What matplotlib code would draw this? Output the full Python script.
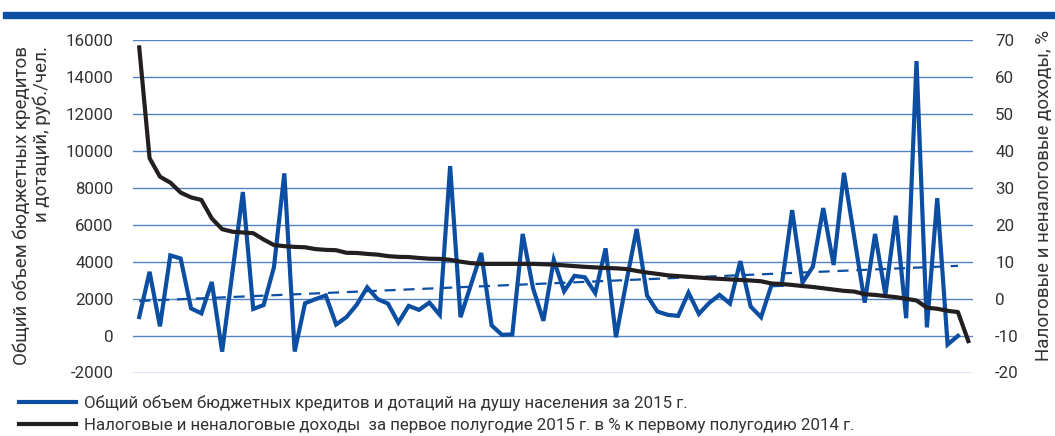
import matplotlib
matplotlib.use("Agg")
import matplotlib.pyplot as plt
import numpy as np
from matplotlib.lines import Line2D
from matplotlib.patches import Rectangle

# ---- data ----
budget_per_capita = [
    1000, 3450, 500, 4340, 4170, 1470, 1200, 2900, -870, 3450,
    7770, 1440, 1650, 3700, 8780, -865, 1750, 1970, 2170, 600,
    1000, 1680, 2610, 1970, 1730, 700, 1605, 1390, 1784, 1120,
    9170, 994, 2740, 4470, 550, 40, 60, 5500, 2560, 800,
    4090, 2400, 3230, 3155, 2300, 4720, -90, 2900, 5770, 2170,
    1300, 1120, 1065, 2324, 1173, 1770, 2200, 1730, 4030, 1570,
    994, 2720, 2740, 6790, 2870, 3730, 6900, 3820, 8810, 5300,
    1784, 5500, 2200, 6490, 940, 14860, 443, 7440, -485, -16,
]
tax_revenue_pct = [
    68.0, 38.0, 33.0, 31.4, 28.7, 27.4, 26.7, 21.7, 18.8, 18.1,
    17.9, 17.7, 16.0, 14.5, 14.2, 14.0, 13.9, 13.4, 13.2, 13.1,
    12.4, 12.35, 12.1, 11.9, 11.5, 11.3, 11.25, 11.0, 10.8, 10.75,
    10.5, 10.0, 9.6, 9.4, 9.4, 9.4, 9.4, 9.4, 9.4, 9.3,
    9.2, 9.0, 8.8, 8.6, 8.45, 8.3, 8.2, 8.0, 7.5, 7.05,
    6.7, 6.3, 6.1, 5.9, 5.7, 5.5, 5.35, 5.2, 5.05, 4.9,
    4.7, 4.1, 3.95, 3.7, 3.4, 3.15, 2.8, 2.45, 2.1, 1.9,
    1.2, 1.0, 0.7, 0.4, -0.05, -0.5, -2.45, -2.75, -3.3, -3.65,
    -11.5,
]
left_ticks = [-2000, 0, 2000, 4000, 6000, 8000, 10000, 12000, 14000, 16000]
right_ticks = [-20, -10, 0, 10, 20, 30, 40, 50, 60, 70]
label_blue = "Общий объем бюджетных кредитов и дотаций на душу населения за 2015 г."
label_black = "Налоговые и неналоговые доходы  за первое полугодие 2015 г. в % к первому полугодию 2014 г."
left_ylabel_lines = ["Общий объем бюджетных кредитов", "и дотаций, руб./чел."]
right_ylabel = "Налоговые и неналоговые доходы, %"

BLUE = "#0b4ea2"
BLACK = "#231f20"
GRID = "#5582c2"
TXT = "#333333"
FONT = ["Roboto", "DejaVu Sans"]
FS = 12.2
FS_LAB = 13.5

plt.rcParams["font.family"] = FONT

fig = plt.figure(figsize=(10.55, 4.36), dpi=100)
W, H = 1055, 436
ax = fig.add_axes([133 / W, 1 - 372.5 / H, (973 - 133) / W, (372.5 - 40) / H])
ax2 = ax.twinx()

xb = np.arange(len(budget_per_capita))
xt = np.arange(len(tax_revenue_pct))

ax.set_ylim(left_ticks[0], left_ticks[-1])
ax.set_yticks(left_ticks)
ax.set_yticklabels([str(t) for t in left_ticks])
ax2.set_ylim(right_ticks[0], right_ticks[-1])
ax2.set_yticks(right_ticks)
ax2.set_yticklabels([str(t) for t in right_ticks])
ax.set_xlim(-0.6, 80.45)
ax.set_xticks([])

ax.grid(axis="y", color=GRID, linewidth=1.0)
ax.set_axisbelow(True)
for a in (ax, ax2):
    for s in a.spines.values():
        s.set_visible(False)
    a.tick_params(axis="both", length=0, labelsize=FS, labelcolor=TXT)
ax.tick_params(axis="y", pad=14)
ax2.tick_params(axis="y", pad=16)

# blue series and linear trend
ax.plot(xb, budget_per_capita, color=BLUE, linewidth=3.0, solid_joinstyle="miter", zorder=3)
coef = np.polyfit(xb, budget_per_capita, 1)
ax.plot(xb, np.polyval(coef, xb), color=BLUE, linewidth=1.6, dashes=(5, 3.5), zorder=3)
# black series on the right axis
ax2.plot(xt, tax_revenue_pct, color=BLACK, linewidth=3.0, zorder=4)

fig.text(22 / W, 1 - 46 / H, left_ylabel_lines[0], rotation=90,
         ha="center", va="top", fontsize=FS_LAB, color=TXT)
fig.text(42 / W, 1 - 46 / H, left_ylabel_lines[1], rotation=90,
         ha="center", va="top", fontsize=FS_LAB, color=TXT)
fig.text(1044 / W, 1 - 195 / H, right_ylabel, rotation=90,
         ha="center", va="center", fontsize=FS_LAB, color=TXT)

# top decorative band
fig.patches.append(Rectangle((3 / W, 1 - 18.5 / H), 1 - 3 / W, 6.5 / H,
                             transform=fig.transFigure, color=BLUE, zorder=0))

handles = [Line2D([], [], color=BLUE, linewidth=3.0), Line2D([], [], color=BLACK, linewidth=3.0)]
fig.legend(handles, [label_blue, label_black], loc="upper left",
           bbox_to_anchor=(12 / W, 1 - 388 / H), frameon=False, fontsize=FS,
           handlelength=3.4, handletextpad=0.45, labelspacing=0.42, borderaxespad=0,
           labelcolor=TXT)

fig.savefig("out.png", dpi=100)
